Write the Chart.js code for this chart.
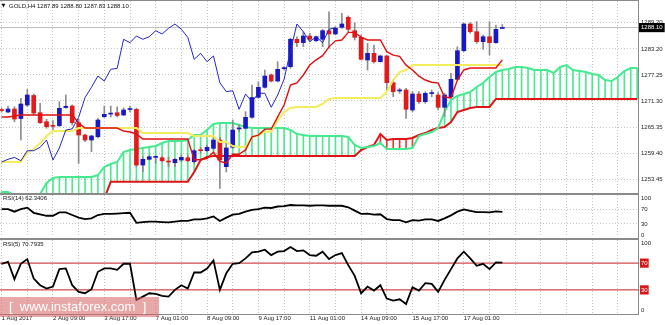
<!DOCTYPE html>
<html>
<head>
<meta charset="utf-8">
<title>GOLD H4</title>
<script src="https://cdn.jsdelivr.net/npm/chart.js@4.4.0/dist/chart.umd.min.js"></script>
<style>
  html, body { margin: 0; padding: 0; background: #fff; }
  #wrap { position: relative; width: 665px; height: 325px; overflow: hidden; background: #fff; }
  #wrap canvas { position: absolute; left: 0; }
  #mark {
    position: absolute; left: 0; top: 297px; width: 159px; height: 20px;
    background: rgba(214, 96, 96, 0.55); color: #fff;
    font: 13px "Liberation Sans", Arial, sans-serif; line-height: 20px;
    padding-left: 9px; box-sizing: border-box; white-space: pre;
  }
</style>
</head>
<body>
<div id="wrap">
  <canvas id="price" width="665" height="194" style="top:0"></canvas>
  <canvas id="rsi14" width="665" height="45" style="top:193px"></canvas>
  <canvas id="rsi5" width="665" height="87" style="top:238px"></canvas>
  <div id="mark">[  www.instaforex.com  ]</div>
</div>
<script>
// GOLD H4 candles, bar 0 = 1 Aug 2017
const opens = [
  1269.35, 1268.78, 1269.47, 1267.29, 1270.38, 1272.56, 1268.62, 1266.56, 1265.58, 1265.65,
  1269.80, 1270.15, 1266.33, 1263.52, 1262.37, 1263.13, 1267.70, 1268.30, 1268.62, 1268.09,
  1269.35, 1269.40, 1256.65, 1257.96, 1258.40, 1258.32, 1257.50, 1257.18, 1257.80, 1258.32,
  1257.41, 1259.95, 1259.93, 1260.47, 1262.37, 1256.27, 1260.70, 1264.90, 1265.05, 1267.57,
  1272.14, 1274.43, 1277.25, 1275.87, 1278.70, 1279.15, 1285.42, 1284.64, 1286.17, 1285.10,
  1285.42, 1287.39, 1286.63, 1288.16, 1290.45, 1287.39, 1285.87, 1280.68, 1282.21, 1280.29,
  1281.60, 1275.49, 1273.60, 1273.82, 1269.24, 1272.90, 1271.14, 1273.00, 1272.67, 1269.86,
  1272.28, 1276.26, 1282.81, 1288.92, 1287.16, 1284.87, 1286.01, 1284.64, 1287.89
];
const highs = [
  1269.70, 1270.15, 1270.00, 1271.90, 1273.93, 1272.90, 1270.77, 1267.11, 1266.80, 1271.14,
  1272.67, 1270.40, 1267.11, 1263.75, 1263.50, 1267.34, 1270.15, 1270.15, 1269.99, 1269.70,
  1270.15, 1269.63, 1258.55, 1258.94, 1258.71, 1258.71, 1258.55, 1258.20, 1258.94, 1258.94,
  1260.24, 1260.70, 1261.23, 1262.99, 1262.99, 1261.69, 1266.95, 1265.81, 1268.85, 1274.96,
  1275.71, 1278.39, 1277.48, 1280.29, 1279.15, 1285.65, 1286.01, 1287.16, 1286.79, 1286.17,
  1287.70, 1291.73, 1288.30, 1291.37, 1290.75, 1289.22, 1286.40, 1284.50, 1284.11, 1281.82,
  1281.82, 1276.10, 1274.20, 1274.20, 1273.43, 1273.43, 1273.43, 1273.82, 1273.20, 1273.06,
  1277.64, 1283.72, 1289.08, 1289.22, 1289.45, 1286.40, 1289.45, 1288.69, 1288.80
];
const lows = [
  1268.80, 1268.55, 1266.56, 1262.37, 1269.99, 1268.09, 1266.19, 1265.05, 1264.66, 1265.42,
  1269.63, 1265.80, 1257.04, 1261.99, 1259.70, 1262.83, 1267.57, 1267.64, 1267.64, 1267.98,
  1268.78, 1256.27, 1255.12, 1257.80, 1257.04, 1257.34, 1256.27, 1256.27, 1257.41, 1257.41,
  1257.04, 1259.47, 1259.70, 1260.09, 1251.32, 1255.05, 1260.47, 1264.27, 1264.89, 1267.34,
  1271.90, 1274.27, 1275.65, 1275.65, 1278.39, 1278.78, 1283.72, 1283.72, 1284.87, 1284.87,
  1283.72, 1283.36, 1286.40, 1287.93, 1287.16, 1285.26, 1280.68, 1278.39, 1279.93, 1280.22,
  1273.82, 1272.28, 1273.06, 1267.34, 1268.85, 1270.77, 1270.77, 1272.28, 1269.24, 1267.72,
  1272.14, 1276.10, 1282.58, 1286.79, 1284.50, 1283.13, 1281.82, 1284.50, 1287.83
];
const closes = [
  1269.10, 1269.47, 1267.18, 1270.61, 1272.67, 1268.55, 1266.33, 1265.42, 1265.50, 1269.63,
  1270.10, 1266.33, 1263.52, 1262.37, 1263.29, 1266.95, 1268.25, 1268.33, 1267.98, 1269.24,
  1269.40, 1256.65, 1257.96, 1258.55, 1258.43, 1257.63, 1257.34, 1257.96, 1258.40, 1257.63,
  1259.93, 1259.93, 1260.70, 1262.37, 1257.80, 1260.55, 1264.66, 1264.93, 1267.57, 1272.10,
  1274.43, 1277.02, 1275.87, 1278.55, 1278.77, 1285.42, 1284.64, 1286.17, 1285.42, 1286.01,
  1287.39, 1286.63, 1287.93, 1288.92, 1287.70, 1285.87, 1280.84, 1282.21, 1280.29, 1281.60,
  1275.49, 1273.43, 1273.66, 1269.40, 1272.90, 1271.14, 1273.06, 1273.06, 1269.86, 1272.67,
  1276.26, 1282.81, 1288.92, 1287.16, 1284.87, 1286.01, 1284.64, 1287.70, 1288.10
];

// Ichimoku: tenkan-sen and kijun-sen, one value per bar
const tenkan = [
  1267.64, 1267.64, 1267.87, 1268.09, 1268.09, 1268.09, 1268.09, 1268.09, 1268.09, 1268.09,
  1268.09, 1268.09, 1266.26, 1265.12, 1265.12, 1265.12, 1265.12, 1265.12, 1265.12, 1264.43,
  1264.20, 1263.75, 1262.60, 1262.60, 1262.60, 1262.60, 1262.60, 1262.60, 1262.60, 1262.60,
  1257.80, 1257.90, 1258.14, 1259.63, 1257.50, 1257.15, 1259.10, 1259.10, 1260.10, 1263.10,
  1263.50, 1264.86, 1264.86, 1267.67, 1270.38, 1274.96, 1275.45, 1277.25, 1279.53, 1280.70,
  1281.68, 1283.69, 1285.06, 1285.26, 1287.00, 1287.00, 1285.90, 1285.26, 1285.26, 1285.26,
  1282.60, 1281.80, 1281.50, 1279.50, 1278.40, 1277.00, 1276.10, 1275.60, 1275.40, 1272.20,
  1272.00, 1276.10, 1278.40, 1278.85, 1278.85, 1278.85, 1278.85, 1278.85, 1280.70
];
const kijun = [
  1257.34, 1257.34, 1257.34, 1257.34, 1259.40, 1260.30, 1261.69, 1263.29, 1264.43, 1264.43,
  1264.43, 1264.43, 1265.12, 1265.12, 1265.12, 1265.12, 1265.12, 1265.12, 1265.12, 1265.12,
  1265.12, 1265.12, 1263.97, 1263.97, 1263.97, 1263.97, 1263.97, 1263.97, 1263.97, 1263.97,
  1263.29, 1263.29, 1263.29, 1263.29, 1261.92, 1261.92, 1261.00, 1260.77, 1260.77, 1263.06,
  1263.52, 1264.27, 1264.27, 1266.95, 1268.78, 1269.70, 1269.93, 1269.93, 1269.93, 1269.93,
  1270.61, 1271.76, 1271.98, 1271.98, 1271.98, 1271.98, 1271.98, 1271.98, 1271.98, 1271.98,
  1273.36, 1276.10, 1277.93, 1278.39, 1279.53, 1279.53, 1279.53, 1279.53, 1279.53, 1279.53,
  1279.53, 1279.53, 1279.53, 1279.53, 1279.53, 1279.53, 1279.53, 1279.53, 1279.53
];
// cloud spans as plotted (already 26 bars ahead), bars 0..99
const spanA = [
  1250.47, 1250.47, 1249.79, 1249.10, 1249.10, 1249.10, 1250.02, 1252.54, 1253.68, 1253.91,
  1253.91, 1253.91, 1253.91, 1253.91, 1253.91, 1254.36, 1256.20, 1256.88, 1257.34, 1259.63,
  1260.09, 1260.31, 1260.54, 1260.77, 1261.00, 1261.69, 1262.14, 1262.14, 1262.14, 1262.37,
  1263.52, 1263.52, 1264.66, 1266.03, 1266.26, 1266.26, 1266.26, 1265.81, 1265.35, 1265.12,
  1265.12, 1265.12, 1265.12, 1265.12, 1265.12, 1264.66, 1263.75, 1263.52, 1263.29, 1263.29,
  1263.29, 1263.29, 1263.29, 1263.29, 1263.06, 1261.23, 1260.54, 1260.77, 1261.00, 1261.69,
  1260.31, 1260.31, 1260.31, 1260.31, 1260.54, 1263.29, 1263.75, 1264.20, 1265.12, 1268.78,
  1271.53, 1272.44, 1272.90, 1273.36, 1274.50, 1275.42, 1276.79, 1277.93, 1278.39, 1278.62,
  1279.08, 1279.08, 1278.85, 1278.39, 1278.39, 1278.39, 1277.71, 1279.08, 1279.53, 1278.39,
  1278.16, 1277.93, 1277.48, 1277.25, 1276.10, 1275.87, 1276.79, 1278.16, 1278.85, 1278.85
];
const spanB = [
  1249.00, 1249.00, 1249.00, 1249.00, 1249.00, 1249.00, 1249.00, 1249.00, 1249.00, 1249.00,
  1249.00, 1249.00, 1249.00, 1249.00, 1249.00, 1249.00, 1249.00, 1252.83, 1252.83, 1252.83,
  1252.83, 1252.83, 1252.83, 1252.83, 1252.83, 1252.83, 1252.83, 1252.83, 1252.83, 1252.83,
  1255.05, 1257.80, 1258.48, 1258.71, 1258.71, 1258.71, 1258.71, 1258.71, 1258.71, 1258.71,
  1258.71, 1258.71, 1258.71, 1258.71, 1258.71, 1258.71, 1258.71, 1258.71, 1258.71, 1258.71,
  1258.71, 1258.71, 1258.71, 1258.71, 1258.71, 1258.71, 1260.09, 1260.77, 1261.23, 1263.75,
  1262.37, 1262.60, 1262.60, 1262.60, 1262.83, 1263.52, 1263.97, 1264.66, 1265.12, 1265.35,
  1266.49, 1268.78, 1269.24, 1269.70, 1269.93, 1269.93, 1269.93, 1271.76, 1271.76, 1271.76,
  1271.76, 1271.76, 1271.76, 1271.76, 1271.76, 1271.76, 1271.76, 1271.76, 1271.76, 1271.76,
  1271.76, 1271.76, 1271.76, 1271.76, 1271.76, 1271.76, 1271.76, 1271.76, 1271.76, 1271.76
];

const rsi14 = [
  70, 70, 63, 70, 74, 60, 56, 52, 52, 61,
  61, 54, 47, 43, 45, 54, 57, 57, 58, 59,
  60, 33, 35, 36, 36, 35, 34, 36, 38, 38,
  42, 42, 45, 50, 38, 47, 55, 57, 63, 68,
  70, 74, 73, 77, 78, 81, 80, 80, 79, 80,
  80, 79, 79, 79, 75, 66, 57, 58, 55, 56,
  43, 40, 40, 34, 40, 39, 42, 42, 38, 45,
  53, 63, 69, 65, 62, 62, 61, 64, 62.3406
];
const rsi5 = [
  69, 72, 46, 69, 76, 47, 37, 32, 35, 61,
  62, 37, 27, 25, 31, 57, 62, 62, 60, 69,
  69, 15, 20, 25, 24, 21, 20, 30, 37, 32,
  56, 56, 62, 74, 30, 55, 69, 70, 77, 86,
  87, 90, 82, 87, 88, 94, 88, 89, 82, 81,
  87, 76, 82, 85, 67, 51, 25, 35, 29, 37,
  17, 14, 16, 9, 34, 29, 40, 39, 27, 45,
  61, 77, 87, 77, 66, 69, 61, 71, 70.7935
];
const rsiLevels = [30, 70];
const rsiTicks = [0, 30, 70, 100];

const priceTicks = [1253.45, 1259.40, 1265.35, 1271.30, 1277.25, 1283.20, 1289.20];
const labelBars = [0, 8, 16, 24, 32, 40, 48, 56, 64, 72];
const timeLabels = ['1 Aug 2017', '2 Aug 09:00', '3 Aug 17:00', '7 Aug 01:00', '8 Aug 09:00',
  '9 Aug 17:00', '11 Aug 01:00', '14 Aug 09:00', '15 Aug 17:00', '17 Aug 01:00'];

// ---------------------------------------------------------------
const X_MIN = -0.25, X_MAX = 99.13;
const BULL = '#1818c4', BEAR = '#e41a1a', WICK = '#8c8c8c';
const GRID = '#c4c4c4', FRAME = '#8a8a8a';
const FONT = '"Liberation Sans", Arial, sans-serif';
const last = closes.length - 1;
const lastClose = closes[last];

Chart.defaults.font.family = FONT;
Chart.defaults.font.size = 6;
Chart.defaults.color = '#222';
Chart.defaults.animation = false;

// vertical grid every 4 bars, labels every 8
const gridBars = [];
for (let b = 0; b <= 96; b += 4) gridBars.push(b);

// frame lines and the caption in the top-left corner of each panel
const panelFrame = {
  id: 'panelFrame',
  afterDraw(chart, args, o) {
    const { ctx, chartArea: a } = chart;
    ctx.save();
    ctx.fillStyle = FRAME;
    ctx.fillRect(0, a.top - o.top, a.right + 1, o.top);
    if (o.bottom) ctx.fillRect(0, a.bottom, a.right + 1, o.bottom);
    ctx.fillStyle = '#111';
    ctx.textBaseline = 'middle';
    ctx.font = '6px ' + FONT;
    ctx.fillText(o.caption, o.x, o.y);
    if (o.marker) {
      ctx.font = '5px "DejaVu Sans"';
      ctx.fillText(o.marker, 1.5, o.y);
    }
    ctx.restore();
  }
};

function timeScale(showLabels) {
  return {
    type: 'linear', min: X_MIN, max: X_MAX, offset: false, bounds: 'data',
    afterBuildTicks: s => { s.ticks = gridBars.map(v => ({ value: v })); },
    ticks: {
      display: showLabels, autoSkip: false, maxRotation: 0, minRotation: 0,
      align: 'start', padding: 1, color: '#222', font: { size: 6 },
      callback: v => {
        const k = labelBars.indexOf(v);
        return k < 0 ? '' : timeLabels[k];
      }
    },
    grid: { color: GRID, lineWidth: 1, drawTicks: false, offset: false },
    border: { display: false, dash: [1, 2] },
    afterFit: s => {
      s.height = showLabels ? 11 : 0;
      s.paddingLeft = 0;
      s.paddingRight = 0;
    }
  };
}

function sideScale(min, max, values, opts) {
  return {
    position: 'right', min, max, bounds: 'data',
    afterBuildTicks: s => { s.ticks = values.map(v => ({ value: v })); },
    ticks: Object.assign({ autoSkip: false, padding: 3, font: { size: 6 } }, opts.ticks),
    grid: { drawTicks: false, lineWidth: 1, color: opts.gridColor },
    border: { display: true, color: FRAME, width: 1, dash: [1, 2] },
    afterFit: s => {
      s.width = 27;
      s.paddingTop = 0;
      s.paddingBottom = 0;
    }
  };
}

const flat = (v, color, width) => ({
  type: 'line',
  data: [{ x: X_MIN, y: v }, { x: X_MAX, y: v }],
  borderColor: color, borderWidth: width, pointRadius: 0
});

const series = (values, color, width, order) => ({
  type: 'line',
  data: values.map((v, i) => ({ x: i, y: v })),
  borderColor: color, borderWidth: width, pointRadius: 0, tension: 0, order
});

// ---------------- price panel ----------------
const hatch = spanA.map((a, i) => ({ x: i, y: [Math.min(a, spanB[i]), Math.max(a, spanB[i])] }));
// chikou span: closes shifted 26 bars back
const chikou = closes.slice(26);

new Chart(document.getElementById('price'), {
  type: 'bar',
  data: {
    datasets: [
      Object.assign(flat(lastClose, '#bdbdbd', 1), { order: 9 }),
      {
        data: hatch, grouped: false, barThickness: 1, order: 8,
        backgroundColor: spanA.map((a, i) => (a >= spanB[i] ? '#4ee892' : '#e83a3a'))
      },
      series(spanB, '#e01414', 2, 7),
      series(spanA, '#46ea8e', 2, 6),
      {
        data: lows.map((l, i) => ({ x: i, y: [l, highs[i]] })),
        grouped: false, barThickness: 1, backgroundColor: WICK, order: 5
      },
      {
        data: opens.map((o, i) => ({ x: i, y: [o, closes[i]] })),
        grouped: false, barThickness: 4, minBarLength: 1, order: 4,
        backgroundColor: opens.map((o, i) => (closes[i] >= o ? BULL : BEAR))
      },
      series(kijun, '#f3ec5e', 2, 3),
      series(tenkan, '#e01010', 1.4, 2),
      series(chikou, '#2525cc', 1, 1)
    ]
  },
  options: {
    responsive: false, devicePixelRatio: 1, events: [],
    layout: { padding: { top: 1, bottom: 1, left: 0, right: 0 } },
    scales: {
      x: timeScale(false),
      y: sideScale(1250.25, 1294.18, [...priceTicks, lastClose], {
        gridColor: c => (c.tick && c.tick.value === lastClose ? 'rgba(0,0,0,0)' : GRID),
        ticks: {
          callback: v => v.toFixed(2),
          color: c => (c.tick && c.tick.value === lastClose ? '#fff' : '#222'),
          showLabelBackdrop: c => !!(c.tick && c.tick.value === lastClose),
          backdropColor: '#000',
          backdropPadding: { top: 1, bottom: 1, left: 2, right: 2 }
        }
      })
    },
    plugins: {
      legend: { display: false }, tooltip: { enabled: false },
      panelFrame: {
        top: 1, bottom: 0, x: 9, y: 6, marker: '\u25BC',
        caption: 'GOLD,H4 ' + [opens[last], highs[last], lows[last], closes[last]].map(v => v.toFixed(2)).join(' ')
      }
    }
  },
  plugins: [panelFrame]
});

// ---------------- RSI(14) ----------------
new Chart(document.getElementById('rsi14'), {
  type: 'line',
  data: { datasets: [series(rsi14, '#000', 1.8, 1)] },
  options: {
    responsive: false, devicePixelRatio: 1, events: [],
    layout: { padding: { top: 2, bottom: 1, left: 0, right: 0 } },
    scales: {
      x: timeScale(false),
      y: sideScale(-5.4, 108.1, rsiTicks, {
        gridColor: c => (c.tick && rsiLevels.includes(c.tick.value) ? GRID : 'rgba(0,0,0,0)'),
        ticks: { callback: v => String(v), color: '#222' }
      })
    },
    plugins: {
      legend: { display: false }, tooltip: { enabled: false },
      panelFrame: { top: 2, bottom: 0, x: 3, y: 5.7, caption: 'RSI(14) ' + rsi14[last].toFixed(4) }
    }
  },
  plugins: [panelFrame]
});

// ---------------- RSI(5) ----------------
new Chart(document.getElementById('rsi5'), {
  type: 'line',
  data: {
    datasets: [
      ...rsiLevels.map(v => Object.assign(flat(v, '#c81e1e', 1), { order: 2 })),
      series(rsi5, '#000', 1.8, 1)
    ]
  },
  options: {
    responsive: false, devicePixelRatio: 1, events: [],
    layout: { padding: { top: 2, bottom: 0, left: 0, right: 0 } },
    scales: {
      x: timeScale(true),
      y: sideScale(-6.0, 104.5, rsiTicks, {
        gridColor: 'rgba(0,0,0,0)',
        ticks: {
          callback: v => String(v),
          color: c => (c.tick && rsiLevels.includes(c.tick.value) ? '#fff' : '#222'),
          showLabelBackdrop: c => !!(c.tick && rsiLevels.includes(c.tick.value)),
          backdropColor: '#d81818',
          backdropPadding: { top: 1, bottom: 1, left: 1, right: 1 }
        }
      })
    },
    plugins: {
      legend: { display: false }, tooltip: { enabled: false },
      panelFrame: { top: 2, bottom: 1, x: 3, y: 6.5, caption: 'RSI(5) ' + rsi5[last].toFixed(4) }
    }
  },
  plugins: [panelFrame]
});
</script>
</body>
</html>
